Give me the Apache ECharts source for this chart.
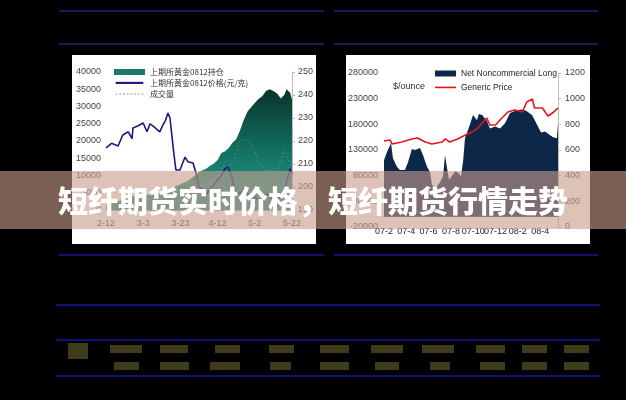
<!DOCTYPE html>
<html><head><meta charset="utf-8">
<script src="https://cdn.jsdelivr.net/npm/echarts@6/dist/echarts.min.js"></script>
<style>html,body{margin:0;padding:0;background:#000;}#c{width:626px;height:400px;}</style>
</head><body><div id="c"></div>
<script>
// ---- Left chart: SHFE gold 0812 ----
const leftTickLabels = ['2-12','3-3','3-23','4-12','5-2','5-22'];
const leftAreaDays = [0,6,14,24,30,36,40,44,48,50,52,54,56,58,60,62,64,66,68,70,72,74,76,78,80,82,84,86,88,90,92,94,95,96,97,98,99,100];
const leftAreaValues = [1500,2500,4000,4500,5500,6500,7500,8500,10000,11000,11500,12000,12800,13500,14500,16500,17000,18000,19500,20500,23000,26000,28500,29800,31000,32200,33000,34500,35000,34500,33800,32300,32000,33500,35000,35500,34000,32000];
const leftPriceDays = [0,3,6.5,9,12,13,14,14.5,17,20,22,23.7,26,27.4,29,30.6,32,33.3,34.4,35.2,36,37,37.6,39.8,41,42.5,44,46.8,48.4,50,52,54,56,58,60,62,64,65.6,67,69,70,72,74,76,78,80,82,84,86,88,90,92,94,96,98,99,100];
const leftPriceValues = [217,219,217.8,222.6,224,224.8,221,225.7,226.5,227.8,224,227.5,226,225,224,227,229,232.2,230,224,218,211,207.4,207.4,210,213,211,210.4,206,200,199,197,199,201,203,205,208,208.7,206,200,198,197,199,197,195,196,194,195,197,196,194,195,196,199,205,208,206];
const leftVolDays = [0,4,8,12,16,20,24,28,32,36,40,44,48,52,56,60,63,66,69,72,74,76,78,80,82,84,86,88,90,92,94,96,98,100];
const leftVolValues = [2500,3000,2000,3500,2800,4000,3000,3500,5000,6500,5000,4500,6000,7000,8000,9500,13000,12500,15000,20000,20500,20000,19000,17000,14000,12500,11000,12500,10500,11500,14000,17500,15000,11000];
const leftSeriesNames = ['上期所黄金0812持仓','上期所黄金0812价格(元/克)','成交量'];

// ---- Right chart: COMEX gold ----
const rightTickLabels = ['07-2','07-4','07-6','07-8','07-10','07-12','08-2','08-4'];
const rightLongTicks = [-20000,30000,80000,130000,180000,230000,280000];
const rightLongMonths = [0,0.27,0.63,0.8,1.17,1.43,1.88,2.15,2.5,2.78,3.23,3.5,3.86,4.13,4.3,4.66,5.0,5.3,5.47,5.65,5.83,6.1,6.37,6.64,6.9,7.1,7.26,7.7,7.98,8.34,8.5,8.8,9.24,9.5,9.96,10.4,10.85,11.3,11.75,12.3,12.7,13.27,13.7,14.08,14.44,14.8,15.16,15.5,15.6];
const rightLongValues = [110000,126000,143000,114000,97000,91000,91000,106000,132000,130000,134000,120000,97000,87000,62000,58000,66000,80000,120000,95000,72000,80000,88000,86000,78000,110000,153000,179000,198000,188000,200000,198000,186000,172000,176000,172000,182000,202000,206000,209000,207000,198000,180000,164000,166000,160000,155000,153000,182000];
const rightPriceMonths = [0,0.54,0.72,1.6,2.5,3.0,3.7,4.3,5.2,5.5,5.9,6.6,7.3,7.9,8.4,9.2,9.5,10.0,10.4,11.1,11.7,12.4,12.8,13.3,13.5,14.2,14.7,15.1,15.6];
const rightPriceValues = [670,678,647,662,686,693,662,647,662,686,662,686,717,740,771,850,795,795,834,896,912,896,974,997,927,927,865,888,927];
const rightSeriesNames = ['Net Noncommercial Long','Generic Price'];
const rightUnit = '$/ounce';
const titleText = '短纤期货实时价格，短纤期货行情走势';

const zip = (a, b) => a.map((v, i) => [v, b[i]]);
const FONT = '"Liberation Sans", Arial, sans-serif';
const lineIcon = 'path://M0,0M0,2L30,2L30,4.3L0,4.3ZM30,6.5';
let dots = 'path://M0,0';
for (let i = 0; i < 30; i += 4) dots += 'M' + i + ',2.8L' + (i + 2) + ',2.8L' + (i + 2) + ',3.8L' + i + ',3.8Z';
dots += 'M30,6.5';

const plain = v => String(v);
const lab = (extra) => Object.assign({fontSize: 9, color: '#444', fontFamily: FONT, formatter: plain}, extra);

const blobs = [];
const rows = [[345, [[68,20,16],[110,32],[160,28],[215,25],[269,25],[320,29],[371,32],[422,32],[476,29],[522,25],[564,25]]],
              [362, [[114,25],[160,29],[210,30],[270,21],[320,29],[375,24],[430,20],[480,25],[522,25],[564,25]]]];
rows.forEach(([y, items]) => items.forEach(it => blobs.push({
  type: 'rect', z: 1, shape: {x: it[0], y: it[2] ? y - 2 : y, width: it[1], height: it[2] || 8},
  style: {fill: '#3f3c1c'}
})));

const hl = (x1, x2, y, c) => ({type: 'line', z: 1, shape: {x1, y1: y, x2, y2: y}, style: {stroke: c, lineWidth: 2}});

const option = {
  backgroundColor: '#000',
  animation: false,
  grid: [
    {left: 106, top: 72, width: 186, height: 138, outerBoundsMode: 'none'},
    {left: 384, top: 73, width: 174, height: 154, outerBoundsMode: 'none'}
  ],
  xAxis: [
    {type: 'value', gridIndex: 0, min: 0, max: 100, interval: 20,
     splitLine: {show: false}, axisTick: {show: false},
     axisLine: {show: true, lineStyle: {color: '#aaa'}},
     axisLabel: lab({margin: 9, formatter: v => leftTickLabels[v / 20] || ''})},
    {type: 'value', gridIndex: 1, min: 0, max: 15.6, interval: 2,
     splitLine: {show: false}, axisTick: {show: false},
     axisLine: {show: true, lineStyle: {color: '#aaa'}},
     axisLabel: lab({margin: 0, color: '#222', formatter: v => (Number.isInteger(v / 2) && rightTickLabels[v / 2]) || ''})}
  ],
  yAxis: [
    {type: 'value', gridIndex: 0, min: 0, max: 40000, interval: 5000, position: 'left',
     axisLine: {show: false}, axisTick: {show: false}, splitLine: {show: false},
     axisLabel: lab({margin: 5})},
    {type: 'value', gridIndex: 0, min: 190, max: 250, interval: 10, position: 'right',
     axisLine: {show: true, lineStyle: {color: '#bbb'}}, axisTick: {show: true, length: 3, lineStyle: {color: '#bbb'}},
     splitLine: {show: false}, axisLabel: lab({margin: 6})},
    {type: 'value', gridIndex: 1, min: -20000, max: 280000, position: 'left',
     axisLine: {show: false}, axisTick: {show: false}, splitLine: {show: false},
     axisLabel: lab({margin: 6, customValues: rightLongTicks})},
    {type: 'value', gridIndex: 1, min: 0, max: 1200, interval: 200, position: 'right',
     axisLine: {show: true, lineStyle: {color: '#bbb'}}, axisTick: {show: true, length: 3, lineStyle: {color: '#bbb'}},
     splitLine: {show: false}, axisLabel: lab({margin: 7})}
  ],
  legend: [
    {orient: 'vertical', left: 114, top: 68, itemWidth: 31, itemHeight: 6, itemGap: 3, padding: 0,
     textStyle: {fontSize: 8, color: '#333', fontFamily: '"Noto Sans CJK SC", sans-serif'},
     data: [
       {name: leftSeriesNames[0], icon: 'rect'},
       {name: leftSeriesNames[1], icon: lineIcon},
       {name: leftSeriesNames[2], icon: dots, itemStyle: {color: '#999'}}
     ]},
    {orient: 'vertical', left: 435, top: 69, itemWidth: 21, itemHeight: 6, itemGap: 5, padding: 0,
     textStyle: {fontSize: 8.5, color: '#222', fontFamily: FONT},
     data: [
       {name: rightSeriesNames[0], icon: 'rect'},
       {name: rightSeriesNames[1], icon: lineIcon, itemStyle: {color: '#e3161d'}}
     ]}
  ],
  series: [
    {name: leftSeriesNames[0], type: 'line', xAxisIndex: 0, yAxisIndex: 0, symbol: 'none', z: 2,
     color: '#1b7a6a', lineStyle: {width: 0},
     areaStyle: {opacity: 1, color: {type: 'linear', x: 0, y: 85, x2: 0, y2: 185, global: true,
       colorStops: [{offset: 0, color: '#0a2f29'}, {offset: 0.5, color: '#106152'}, {offset: 1, color: '#1d8f7e'}]}},
     data: zip(leftAreaDays, leftAreaValues)},
    {name: leftSeriesNames[2], type: 'line', xAxisIndex: 0, yAxisIndex: 0, symbol: 'none', z: 3,
     color: '#7fb3a6', lineStyle: {width: 1, type: [1, 3], opacity: 0.8},
     data: zip(leftVolDays, leftVolValues)},
    {name: leftSeriesNames[1], type: 'line', xAxisIndex: 0, yAxisIndex: 1, symbol: 'none', z: 4,
     color: '#1d1a7c', lineStyle: {width: 1.6},
     data: zip(leftPriceDays, leftPriceValues)},
    {name: rightSeriesNames[0], type: 'line', xAxisIndex: 1, yAxisIndex: 2, symbol: 'none', z: 2,
     color: '#0c2748', lineStyle: {width: 0}, areaStyle: {opacity: 1, color: '#0c2748'},
     data: zip(rightLongMonths, rightLongValues)},
    {name: rightSeriesNames[1], type: 'line', xAxisIndex: 1, yAxisIndex: 3, symbol: 'none', z: 4,
     color: '#e3161d', lineStyle: {width: 1.6},
     data: zip(rightPriceMonths, rightPriceValues)}
  ],
  graphic: {elements: [
    {type: 'rect', z: -1, shape: {x: 72, y: 55, width: 244, height: 189}, style: {fill: '#fff'}},
    {type: 'rect', z: -1, shape: {x: 346, y: 55, width: 244, height: 189}, style: {fill: '#fff'}},
    hl(59, 324, 11, '#1b1b52'), hl(334, 598, 11, '#1b1b52'),
    hl(59, 324, 44, '#1b1b55'), hl(334, 598, 44, '#1b1b55'),
    hl(59, 324, 255, '#12126e'), hl(334, 598, 255, '#12126e'),
    hl(56, 600, 305, '#10107a'), hl(56, 600, 340, '#10107a'), hl(56, 600, 376, '#10107a'),
    ...blobs,
    {type: 'text', z: 5, x: 393, y: 82, style: {text: rightUnit, fontSize: 9, fill: '#333', fontFamily: FONT}},
    {type: 'rect', z: 100, shape: {x: 0, y: 171, width: 626, height: 58}, style: {fill: 'rgba(200,156,139,0.61)'}},
    {type: 'text', z: 101, x: 313, y: 201, style: {
      text: titleText, fill: '#fff', fontSize: 30, fontWeight: 900,
      fontFamily: '"Noto Sans CJK SC", sans-serif',
      align: 'center', verticalAlign: 'middle', textAlign: 'center', textVerticalAlign: 'middle',
      shadowColor: 'rgba(60,30,20,0.6)', shadowBlur: 6}}
  ]}
};
const chart = echarts.init(document.getElementById('c'));
chart.setOption(option);
</script></body></html>
